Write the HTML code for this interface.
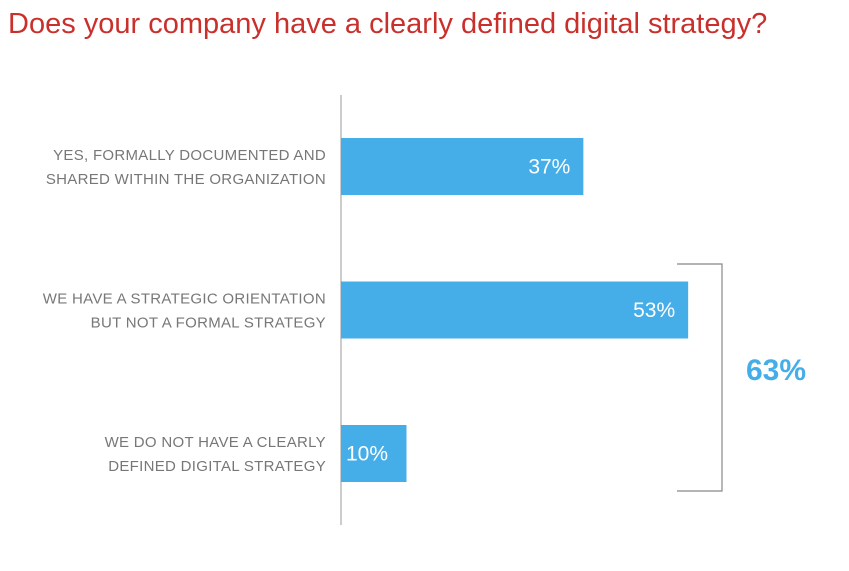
<!DOCTYPE html>
<html><head><meta charset="utf-8"><style>
body{margin:0;background:#fff;width:849px;height:566px;overflow:hidden;font-family:"Liberation Sans",sans-serif}
</style></head><body>
<svg width="849" height="566" viewBox="0 0 849 566">
<text x="8" y="33" font-size="29" fill="#c9302c" font-family="Liberation Sans, sans-serif">Does your company have a clearly defined digital strategy?</text>
<line x1="341" y1="95" x2="341" y2="525" stroke="#999" stroke-width="1"/>
<g id="bars"></g>
<path d="M677 264 H722 V491 H677" fill="none" stroke="#888" stroke-width="1.2"/>
<text x="776" y="380" font-size="30" font-weight="bold" fill="#45aee8" text-anchor="middle" font-family="Liberation Sans, sans-serif">63%</text>
</svg>
<script>
const categoriesLine1=["YES, FORMALLY DOCUMENTED AND","WE HAVE A STRATEGIC ORIENTATION","WE DO NOT HAVE A CLEARLY"];
const categoriesLine2=["SHARED WITHIN THE ORGANIZATION","BUT NOT A FORMAL STRATEGY","DEFINED DIGITAL STRATEGY"];
const values=[37,53,10];
const valueLabels=["37%","53%","10%"];
const ns="http://www.w3.org/2000/svg";
const g=document.getElementById('bars');
const x0=341, pxPer=6.55;
function xScale(v){return x0+v*pxPer;}
function yBand(i){return 138+i*143.5;}
const bh=57;
values.forEach((v,i)=>{
  const y=yBand(i);
  const r=document.createElementNS(ns,'rect');
  r.setAttribute('x',x0);r.setAttribute('y',y);r.setAttribute('width',xScale(v)-x0);r.setAttribute('height',bh);r.setAttribute('fill','#45aee8');
  
  
  g.appendChild(r);
  const t=document.createElementNS(ns,'text');
  const small=(xScale(v)-x0)<90;
  t.setAttribute('x',small?x0+5:xScale(v)-13);t.setAttribute('y',y+bh/2+7);
  t.setAttribute('text-anchor',small?'start':'end');t.setAttribute('font-size','21');t.setAttribute('fill','#fff');
  t.textContent=valueLabels[i];
  
  
  g.appendChild(t);
  [categoriesLine1[i],categoriesLine2[i]].forEach((s,k)=>{
    const l=document.createElementNS(ns,'text');
    l.setAttribute('x',326);l.setAttribute('y',y+22+k*24);l.setAttribute('text-anchor','end');
    l.setAttribute('font-size','15');l.setAttribute('fill','#777');l.setAttribute('letter-spacing','0.3');
    l.textContent=s;
    
    
    g.appendChild(l);
  });
});
</script>
</body></html>
